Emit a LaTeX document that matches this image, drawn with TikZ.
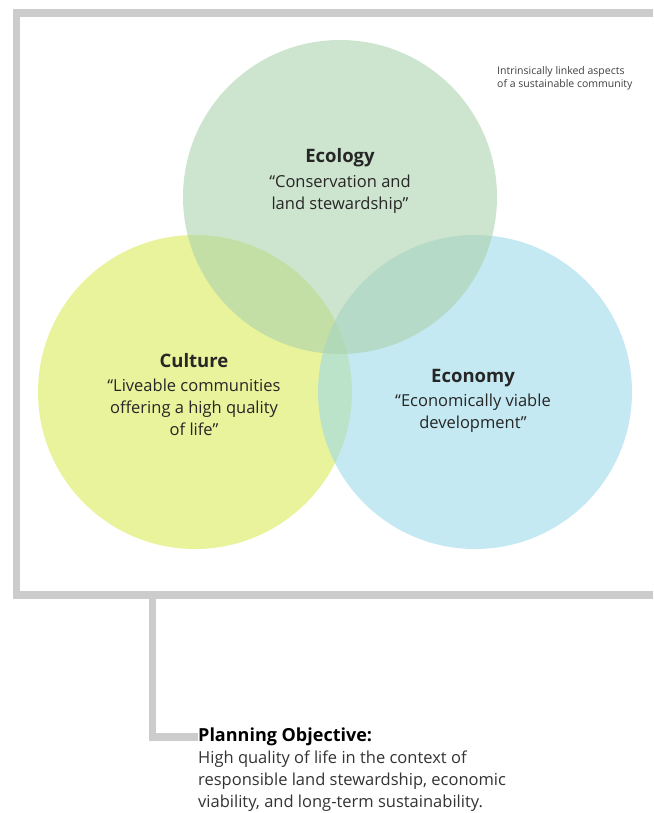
\documentclass[tikz,border=0pt]{standalone}
\usepackage{fontspec}
\setmainfont{Open Sans}
\usetikzlibrary{positioning}

\definecolor{framegray}{HTML}{CCCCCC}
\definecolor{ecogreen}{RGB}{172,210,173}
\definecolor{cultyellow}{RGB}{218,235,88}
\definecolor{econblue}{RGB}{157,218,233}

\tikzset{
    frame/.style = {line width = 7.5pt, framegray},
    bubble/.style = {fill opacity = 0.6},
    label/.style = {align=center, inner sep=0pt, anchor=north, text=black!85,
                    font=\fontsize{16.5}{22}\selectfont}
}
\newcommand{\headline}[1]{{\bfseries\fontsize{18.5}{22}\selectfont #1}}

\begin{document}
\begin{tikzpicture}[x=1pt,y=-1pt]
    \useasboundingbox (0,0) rectangle (653,813);
    \coordinate (ecoC) at (340,197);
    \coordinate (culC) at (195,392);
    \coordinate (ecnC) at (475,392);
    % draw frame
    \draw[frame] (653,13) -- (16.5,13) -- (16.5,595) -- (653,595);
    \coordinate (tee) at (152.5,595);
    \coordinate (elbow) at (152.5,737);
    % draw circles
    \fill[bubble, cultyellow] (culC) circle (157);
    \fill[bubble, econblue] (ecnC) circle (157);
    \fill[bubble, ecogreen] (ecoC) circle (157);
    % circle texts
    \node[label] (ecology) at (340,148)
        {\headline{Ecology}\\[3pt] “Conservation and\\ land stewardship”};
    \node[label] (culture) at (194,353)
        {\headline{Culture}\\[2pt] “Liveable communities\\ offering a high quality\\ of life”};
    \node[label] (economy) at (473,369)
        {\headline{Economy}\\[2pt] “Economically viable\\ development”};
    \node[label, anchor=north west, align=left, text=black!75,
          font=\fontsize{10.5}{13.5}\selectfont] (note) at (497,66)
        {Intrinsically linked aspects\\ of a sustainable community};
    % objective
    \node[label, anchor=north west, align=left, text=black!80] (objective) at (198,728)
        {{\bfseries\fontsize{18}{22}\selectfont\color{black} Planning Objective:}\\
         High quality of life in the context of\\
         responsible land stewardship, economic\\
         viability, and long-term sustainability.};
    \draw[frame] (tee) -- (elbow) -- (elbow -| objective.west);
\end{tikzpicture}
\end{document}
